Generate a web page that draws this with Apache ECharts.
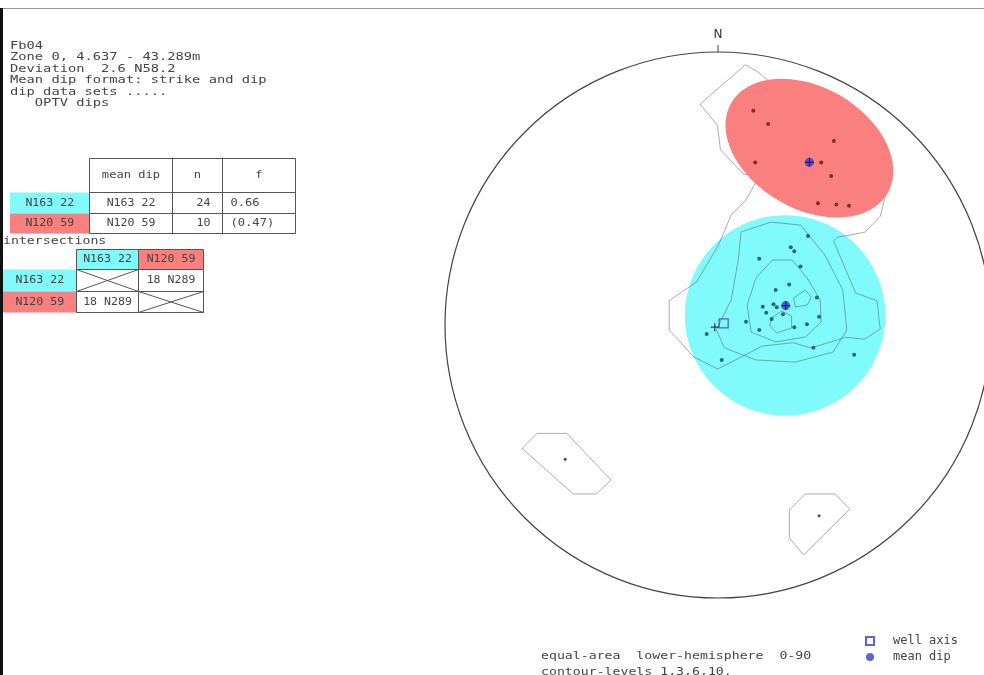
<!DOCTYPE html>
<html>
<head>
<meta charset="utf-8">
<script src="https://cdn.jsdelivr.net/npm/echarts@6/dist/echarts.min.js"></script>
<style>
html, body { margin: 0; padding: 0; background: #fff; }
#main { width: 984px; height: 675px; }
</style>
</head>
<body>
<div id="main"></div>
<script>
// net coordinates: x = east, y = north, radius of the net = 1
var redPoles = [[0.144,0.785],[0.199,0.736],[0.443,0.674],[0.151,0.595],[0.396,0.595],
                [0.433,0.546],[0.384,0.446],[0.452,0.441],[0.499,0.437]];
var cyanPoles = [[0.347,0.326],[0.283,0.285],[0.296,0.270],[0.166,0.243],[0.319,0.214],
                 [0.277,0.148],[0.227,0.128],[0.380,0.101],[0.219,0.076],[0.231,0.065],
                 [0.179,0.067],[0.192,0.045],[0.254,0.039],[0.388,0.030],[0.212,0.022],
                 [0.117,0.012],[0.343,0.003],[0.296,-0.008],[0.166,-0.018],[0.367,-0.083],
                 [0.518,-0.109],[0.027,-0.128],[-0.029,-0.033]];
var otherPoles = [[-0.554,-0.492],[0.388,-0.699]];
var meanDips = [[0.352,0.596],[0.264,0.071]];
var wellAxis = [[0.034,0.006]];
var netCentre = [[0.001,-0.008]];

// cones: centre x, centre y, semi-axis a, semi-axis b, tilt (deg clockwise)
var redCone = [0.352, 0.648, 0.335, 0.226, 30];
var cyanCone = [0.262, 0.035, 0.372, 0.372, 0];

// contours (levels 1,3,6,10)
var contour1 = [[-0.053,0.809],[0.114,0.953],[0.161,0.927],[0.593,0.568],[0.615,0.513],[0.638,0.488],
                [0.615,0.398],[0.558,0.340],[0.455,0.321],[0.442,0.308],[0.484,0.209],[0.524,0.117],
                [0.603,0.089],[0.615,-0.014],[0.558,-0.052],[0.487,-0.045],[0.358,-0.084],[0.293,-0.065],
                [0.178,-0.077],[0.062,-0.136],[0.011,-0.161],[-0.078,-0.116],[-0.168,-0.018],[-0.168,0.089],
                [-0.111,0.128],[-0.066,0.158],[0.015,0.293],[0.062,0.403],[0.117,0.458],[0.166,0.545],
                [0.108,0.552],[0.022,0.642],[0.011,0.732]];
var contour1b = [[-0.658,-0.397],[-0.548,-0.397],[-0.384,-0.568],[-0.439,-0.619],[-0.524,-0.619],[-0.714,-0.452]];
var contour1c = [[0.337,-0.619],[0.447,-0.619],[0.502,-0.675],[0.331,-0.842],[0.278,-0.781],[0.278,-0.678]];
var contour3 = [[0.099,0.341],[0.209,0.377],[0.319,0.366],[0.410,0.256],[0.476,0.128],[0.491,-0.018],
                [0.440,-0.099],[0.300,-0.136],[0.154,-0.128],[0.037,-0.084],[0.007,-0.018],[0.062,0.092],
                [0.088,0.238]];
var contour6 = [[0.215,0.238],[0.288,0.238],[0.344,0.172],[0.392,0.092],[0.396,0.011],[0.337,-0.044],
                [0.227,-0.062],[0.136,-0.026],[0.121,0.073],[0.154,0.172]];
var contour10a = [[0.212,0.026],[0.249,0.051],[0.286,0.033],[0.286,-0.011],[0.231,-0.029],[0.205,-0.004]];
var contour10b = [[0.293,0.099],[0.337,0.128],[0.359,0.103],[0.344,0.073],[0.300,0.066]];

// text
var infoLines = ['Fb04', 'Zone 0, 4.637 - 43.289m', 'Deviation  2.6 N58.2',
                 'Mean dip format: strike and dip', 'dip data sets .....', '   OPTV dips'];
var setNames = ['N163 22', 'N120 59'];
var meanDipText = ['N163 22', 'N120 59'];
var nCounts = ['24', '10'];
var fValues = ['0.66', '(0.47)'];
var intersections = [[null, '18 N289'], ['18 N289', null]];
var footLines = ['equal-area  lower-hemisphere  0-90', 'contour-levels 1,3,6,10.'];

var CYAN = '#80fafa', RED = '#fa7f7f', BLUE = '#3a3ad0';
var FONT = '11px "DejaVu Sans Mono"';
var TFONT = '11px "DejaVu Sans Mono"';
var INK = '#444';

var chart = echarts.init(document.getElementById('main'));

function closed(poly) { return poly.concat([poly[0]]); }

function contourSeries(poly) {
    return {
        type: 'line', data: closed(poly), showSymbol: false, symbol: 'none', z: 2,
        lineStyle: { color: 'rgba(70,70,70,0.45)', width: 1 }, silent: true, animation: false
    };
}

function coneSeries(cone, color, z) {
    return {
        type: 'custom', z: z, data: [cone], animation: false, silent: true,
        renderItem: function(params, api) {
            var c = api.coord([api.value(0), api.value(1)]);
            var a = api.size([api.value(2), 0])[0];
            var b = api.size([api.value(3), 0])[0];
            return {
                type: 'circle', x: c[0], y: c[1],
                rotation: -api.value(4) * Math.PI / 180,
                scaleX: 1, scaleY: b / a,
                shape: { cx: 0, cy: 0, r: a },
                style: { fill: color }
            };
        }
    };
}

// left text, tables, frame
var g = [];
function txt(x, y, s, font, align, sx) {
    g.push({ type: 'text', x: x, y: y, silent: true, scaleX: sx || 1.25,
             style: { text: s, font: font || FONT, fill: INK, align: align || 'left', verticalAlign: 'middle' } });
}
function box(x, y, w, h, fill) {
    g.push({ type: 'rect', silent: true, shape: { x: x, y: y, width: w, height: h },
             style: { fill: fill || 'none', stroke: fill ? 'none' : '#555', lineWidth: 1 } });
}
function seg(x1, y1, x2, y2) {
    g.push({ type: 'line', silent: true, shape: { x1: x1, y1: y1, x2: x2, y2: y2 },
             style: { stroke: '#555', lineWidth: 1 } });
}

g.push({ type: 'rect', silent: true, shape: { x: 0, y: 8, width: 984, height: 1 }, style: { fill: '#999' } });
g.push({ type: 'rect', silent: true, shape: { x: 0, y: 8, width: 3, height: 667 }, style: { fill: '#111' } });

infoLines.forEach(function(s, i) { txt(10, 46 + i * 11.5, s); });

// mean dip table
var c1 = [89.5, 172.5, 222.5, 295.5];
var r1 = [158.5, 192.5, 213.5, 233.5];
var setFills = [CYAN, RED];
box(c1[0], r1[0], c1[1] - c1[0], r1[1] - r1[0]);
box(c1[1], r1[0], c1[2] - c1[1], r1[1] - r1[0]);
box(c1[2], r1[0], c1[3] - c1[2], r1[1] - r1[0]);
txt((c1[0] + c1[1]) / 2, (r1[0] + r1[1]) / 2, 'mean dip', TFONT, 'center', 1.1);
txt((c1[1] + c1[2]) / 2, (r1[0] + r1[1]) / 2, 'n', TFONT, 'center', 1.1);
txt((c1[2] + c1[3]) / 2, (r1[0] + r1[1]) / 2, 'f', TFONT, 'center', 1.1);
for (var i = 0; i < 2; i++) {
    var y0 = r1[i + 1], y1 = r1[i + 2];
    box(10, y0, c1[0] - 10, y1 - y0, setFills[i]);
    txt((10 + c1[0]) / 2, (y0 + y1) / 2, setNames[i], TFONT, 'center', 1.05);
    box(c1[0], y0, c1[1] - c1[0], y1 - y0);
    box(c1[1], y0, c1[2] - c1[1], y1 - y0);
    box(c1[2], y0, c1[3] - c1[2], y1 - y0);
    txt((c1[0] + c1[1]) / 2, (y0 + y1) / 2, meanDipText[i], TFONT, 'center', 1.05);
    txt(c1[1] + 24, (y0 + y1) / 2, nCounts[i], TFONT, 'left', 1.05);
    txt(c1[2] + 8, (y0 + y1) / 2, fValues[i], TFONT, 'left', 1.1);
}

// intersections table
txt(3, 241, 'intersections', TFONT, 'left', 1.2);
var c2 = [3, 76.5, 138.5, 203.5];
var r2 = [249.5, 269.5, 291.5, 312.5];
for (var j = 0; j < 2; j++) {
    box(c2[j + 1], r2[0], c2[j + 2] - c2[j + 1], r2[1] - r2[0], setFills[j]);
    box(c2[j + 1], r2[0], c2[j + 2] - c2[j + 1], r2[1] - r2[0]);
    txt((c2[j + 1] + c2[j + 2]) / 2, (r2[0] + r2[1]) / 2, setNames[j], TFONT, 'center', 1.05);
}
for (var i2 = 0; i2 < 2; i2++) {
    var ya = r2[i2 + 1], yb = r2[i2 + 2];
    box(c2[0], ya, c2[1] - c2[0], yb - ya, setFills[i2]);
    txt((c2[0] + c2[1]) / 2, (ya + yb) / 2, setNames[i2], TFONT, 'center', 1.05);
    for (var k = 0; k < 2; k++) {
        var xa = c2[k + 1], xb = c2[k + 2];
        box(xa, ya, xb - xa, yb - ya);
        if (intersections[i2][k] === null) {
            seg(xa, ya, xb, yb);
            seg(xa, yb, xb, ya);
        } else {
            txt((xa + xb) / 2, (ya + yb) / 2, intersections[i2][k], TFONT, 'center', 1.05);
        }
    }
}

footLines.forEach(function(s, i) { txt(541, 656 + i * 16, s, FONT, 'left', 1.2); });

var option = {
    backgroundColor: '#fff',
    animation: false,
    grid: { left: 445, top: 52, width: 546, height: 546 },
    xAxis: { type: 'value', min: -1, max: 1, show: false },
    yAxis: { type: 'value', min: -1, max: 1, show: false },
    polar: { center: [718, 325], radius: 273 },
    angleAxis: {
        type: 'value', min: 0, max: 360, interval: 360, startAngle: 90, clockwise: true,
        axisLine: { lineStyle: { color: '#444', width: 1.2 } },
        axisTick: { show: true, length: 7, lineStyle: { color: '#444' } },
        splitLine: { show: false },
        axisLabel: {
            margin: 11, color: '#333', fontFamily: 'DejaVu Sans', fontSize: 12,
            formatter: function(v) { return v === 0 ? 'N' : ''; }
        }
    },
    radiusAxis: { min: 0, max: 1, show: false },
    legend: {
        orient: 'vertical', left: 860, top: 630, itemWidth: 8, itemHeight: 8, itemGap: 4,
        data: ['well axis', 'mean dip'],
        textStyle: { fontFamily: 'DejaVu Sans Mono', fontSize: 12, color: INK, padding: [0, 0, 0, 14] }
    },
    graphic: g,
    series: [
        coneSeries(cyanCone, CYAN, 1),
        contourSeries(contour1), contourSeries(contour1b), contourSeries(contour1c),
        contourSeries(contour3), contourSeries(contour6), contourSeries(contour10a), contourSeries(contour10b),
        coneSeries(redCone, RED, 3),
        { type: 'scatter', data: redPoles, symbolSize: 4, z: 4, itemStyle: { color: '#5a1a1a' } },
        { type: 'scatter', data: cyanPoles, symbolSize: 4, z: 4, itemStyle: { color: '#1f3f4f' } },
        { type: 'scatter', data: otherPoles, symbolSize: 3, z: 4, itemStyle: { color: '#222' } },
        { type: 'scatter', name: 'mean dip', data: meanDips, symbolSize: 9, z: 5,
          itemStyle: { color: BLUE } },
        { type: 'scatter', data: meanDips, symbol: 'path://M0,5L10,5M5,0L5,10', symbolSize: 9, z: 6,
          itemStyle: { color: 'none', borderColor: '#15156a', borderWidth: 1.2 } },
        { type: 'scatter', name: 'well axis', data: wellAxis, symbol: 'rect', symbolSize: 9, z: 5,
          itemStyle: { color: 'rgba(0,0,0,0)', borderColor: BLUE, borderWidth: 1.3 } },
        { type: 'scatter', data: netCentre, symbol: 'path://M0,5L10,5M5,0L5,10', symbolSize: 8, z: 5,
          itemStyle: { color: 'none', borderColor: '#111', borderWidth: 1.2 } }
    ]
};
chart.setOption(option);
</script>
</body>
</html>
